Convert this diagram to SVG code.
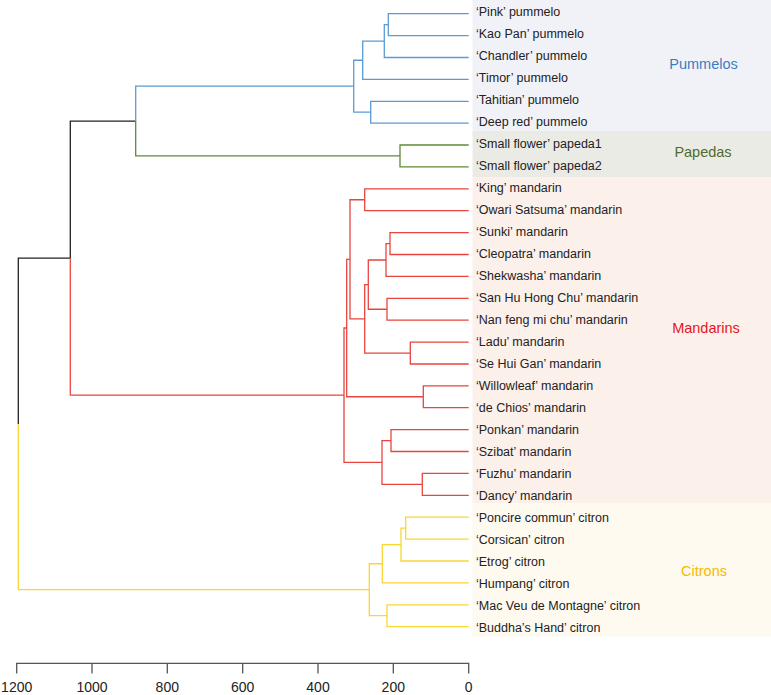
<svg xmlns="http://www.w3.org/2000/svg" width="771" height="695" viewBox="0 0 771 695">
<style>
text{font-family:"Liberation Sans",Arial,sans-serif}
.lf{font-size:12.5px;fill:#222}
.gl{font-size:14.5px;text-anchor:middle}
.ax{font-size:14px;fill:#222;text-anchor:middle}
.e{fill:none;stroke-width:1.3;stroke-linejoin:miter}
.b{stroke:#5b9bd5}.g{stroke:#5e8a36}.r{stroke:#e8453f}.y{stroke:#fad632}.k{stroke:#222}
</style>
<rect width="771" height="695" fill="#fff"/>
<g id="bands">
<rect x="472.5" y="0" width="298.5" height="131" fill="#f1f2f8"/>
<rect x="472.5" y="131" width="298.5" height="46.5" fill="#ebebe5"/>
<rect x="472.5" y="177.5" width="298.5" height="325.5" fill="#fcf0eb"/>
<rect x="472.5" y="503" width="298.5" height="133.5" fill="#fffaf0"/>
</g>
<g id="connectors">
<path class="e k" d="M18.3 423.9V258.15H70.3M70.3 258.15V121.1H135.7"/>
<path class="e y" d="M18.3 423.9V589.7H369.3"/>
<path class="e r" d="M70.3 258.15V395.2H344"/>
<path class="e b" d="M135.7 121.1V86.2H353.7M353.7 86.2V60.24H362.7M353.7 86.2V112.2H370.7M362.7 60.24V41.07H384.3M362.7 60.24V79.4H468.7M384.3 41.07V24.65H388.3M384.3 41.07V57.5H468.7M388.3 24.65V13.7H468.7M388.3 24.65V35.6H468.7M370.7 112.2V101.3H468.7M370.7 112.2V123.1H468.7"/>
<path class="e g" d="M135.7 121.1V155.95H400M400 155.95V145H468.7M400 155.95V166.9H468.7"/>
<path class="e r" d="M344 395.2V328H346.7M344 395.2V462.45H382M346.7 328V259.3H350M346.7 328V396.75H423.3M350 259.3V199.75H364.7M350 259.3V318.8H364.7M364.7 199.75V188.8H468.7M364.7 199.75V210.7H468.7M364.7 318.8V284.6H368.3M364.7 318.8V353.05H410.3M368.3 284.6V259.98H386M368.3 284.6V309.25H387M386 259.98V243.55H390M386 259.98V276.4H468.7M390 243.55V232.6H468.7M390 243.55V254.5H468.7M387 309.25V298.3H468.7M387 309.25V320.2H468.7M410.3 353.05V342.1H468.7M410.3 353.05V364H468.7M423.3 396.75V385.8H468.7M423.3 396.75V407.7H468.7M382 462.45V440.55H391M382 462.45V484.35H422.3M391 440.55V429.6H468.7M391 440.55V451.5H468.7M422.3 484.35V473.4H468.7M422.3 484.35V495.3H468.7"/>
<path class="e y" d="M369.3 589.7V563.75H382.3M369.3 589.7V615.7H387M382.3 563.75V544.6H401M382.3 563.75V582.9H468.7M401 544.6V528.15H405.7M401 544.6V561H468.7M405.7 528.15V517.2H468.7M405.7 528.15V539.1H468.7M387 615.7V604.8H468.7M387 615.7V626.6H468.7"/>
</g>
<g id="leaves">
<g id="leaf-pink"><text class="lf" x="476" y="16.2">‘Pink’ pummelo</text></g>
<g id="leaf-kaopan"><text class="lf" x="476" y="38.2">‘Kao Pan’ pummelo</text></g>
<g id="leaf-chandler"><text class="lf" x="476" y="60.2">‘Chandler’ pummelo</text></g>
<g id="leaf-timor"><text class="lf" x="476" y="82.2">‘Timor’ pummelo</text></g>
<g id="leaf-tahitian"><text class="lf" x="476" y="104.2">‘Tahitian’ pummelo</text></g>
<g id="leaf-deepred"><text class="lf" x="476" y="126.2">‘Deep red’ pummelo</text></g>
<g id="leaf-papeda1"><text class="lf" x="476" y="148.2">‘Small flower’ papeda1</text></g>
<g id="leaf-papeda2"><text class="lf" x="476" y="170.2">‘Small flower’ papeda2</text></g>
<g id="leaf-king"><text class="lf" x="476" y="192.2">‘King’ mandarin</text></g>
<g id="leaf-owari"><text class="lf" x="476" y="214.2">‘Owari Satsuma’ mandarin</text></g>
<g id="leaf-sunki"><text class="lf" x="476" y="236.2">‘Sunki’ mandarin</text></g>
<g id="leaf-cleopatra"><text class="lf" x="476" y="258.2">‘Cleopatra’ mandarin</text></g>
<g id="leaf-shekwasha"><text class="lf" x="476" y="280.2">‘Shekwasha’ mandarin</text></g>
<g id="leaf-sanhu"><text class="lf" x="476" y="302.2">‘San Hu Hong Chu’ mandarin</text></g>
<g id="leaf-nanfeng"><text class="lf" x="476" y="324.2">‘Nan feng mi chu’ mandarin</text></g>
<g id="leaf-ladu"><text class="lf" x="476" y="346.2">‘Ladu’ mandarin</text></g>
<g id="leaf-sehuigan"><text class="lf" x="476" y="368.2">‘Se Hui Gan’ mandarin</text></g>
<g id="leaf-willowleaf"><text class="lf" x="476" y="390.2">‘Willowleaf’ mandarin</text></g>
<g id="leaf-dechios"><text class="lf" x="476" y="412.2">‘de Chios’ mandarin</text></g>
<g id="leaf-ponkan"><text class="lf" x="476" y="434.2">‘Ponkan’ mandarin</text></g>
<g id="leaf-szibat"><text class="lf" x="476" y="456.2">‘Szibat’ mandarin</text></g>
<g id="leaf-fuzhu"><text class="lf" x="476" y="478.2">‘Fuzhu’ mandarin</text></g>
<g id="leaf-dancy"><text class="lf" x="476" y="500.2">‘Dancy’ mandarin</text></g>
<g id="leaf-poncire"><text class="lf" x="476" y="522.2">‘Poncire commun’ citron</text></g>
<g id="leaf-corsican"><text class="lf" x="476" y="544.2">‘Corsican’ citron</text></g>
<g id="leaf-etrog"><text class="lf" x="476" y="566.2">‘Etrog’ citron</text></g>
<g id="leaf-humpang"><text class="lf" x="476" y="588.2">‘Humpang’ citron</text></g>
<g id="leaf-macveu"><text class="lf" x="476" y="610.2">‘Mac Veu de Montagne’ citron</text></g>
<g id="leaf-buddha"><text class="lf" x="476" y="632.2">‘Buddha’s Hand’ citron</text></g>
</g>
<g id="groups">
<g id="grp-pummelos"><text class="gl" x="703.5" y="68.5" fill="#3b7dc4">Pummelos</text></g>
<g id="grp-papedas"><text class="gl" x="703" y="157" fill="#4f6b2e">Papedas</text></g>
<g id="grp-mandarins"><text class="gl" x="706" y="333" fill="#e5161d">Mandarins</text></g>
<g id="grp-citrons"><text class="gl" x="704" y="575.5" fill="#f7b900">Citrons</text></g>
</g>
<g id="axis" stroke="#555" stroke-width="1.3" fill="none">
<path d="M16.7 673.5V663.3H468.7V673.5M92 663.3V673.5M167.3 663.3V673.5M242.7 663.3V673.5M318 663.3V673.5M393.3 663.3V673.5"/>
</g>
<g id="axis-labels">
<text class="ax" x="16.7" y="691.5">1200</text>
<text class="ax" x="92" y="691.5">1000</text>
<text class="ax" x="167.3" y="691.5">800</text>
<text class="ax" x="242.7" y="691.5">600</text>
<text class="ax" x="318" y="691.5">400</text>
<text class="ax" x="393.3" y="691.5">200</text>
<text class="ax" x="468.7" y="691.5">0</text>
</g>
</svg>
